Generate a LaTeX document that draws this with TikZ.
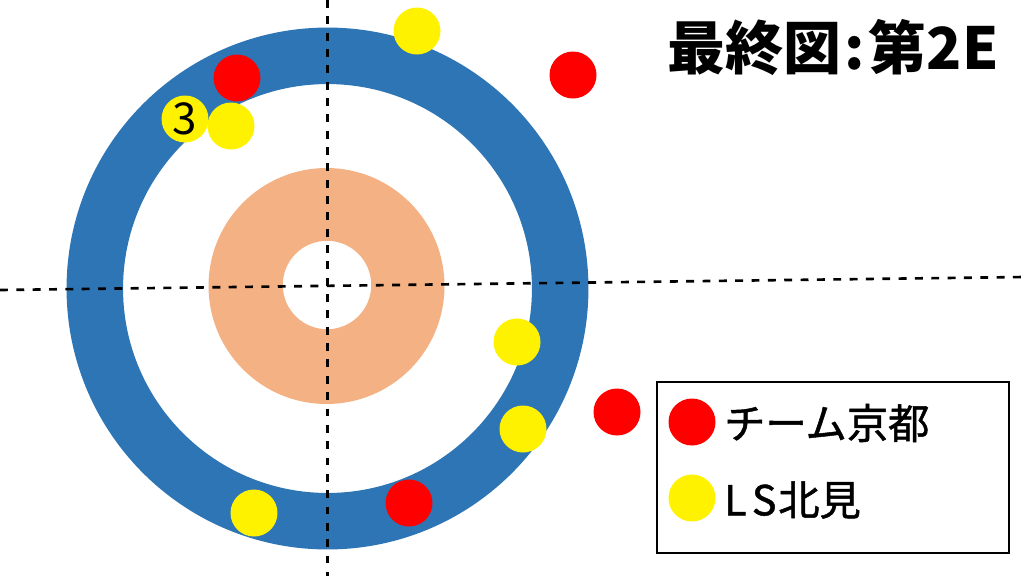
\documentclass[tikz,border=0pt]{standalone}
\usepackage{fontspec}
\setmainfont{Noto Sans CJK JP}
\newfontfamily\keyfont{Noto Sans CJK JP}[FakeBold=1.2]
\definecolor{sheetblue}{HTML}{2E75B6}
\definecolor{sheetorange}{HTML}{F4B183}
\tikzset{
	stone/.style={circle, minimum size=0.94cm, inner sep=0pt},
	redstone/.style={stone, fill=red},
	yellowstone/.style={stone, fill=yellow},
	guide/.style={line width=1.5pt, dash pattern=on 4.5pt off 4.8pt},
	keytext/.style={anchor=west, font=\fontsize{23.5}{23.5}\selectfont\keyfont},
}
\begin{document}
\begin{tikzpicture}[x=0.02cm, y=-0.02cm]
		\useasboundingbox (0, 0) rectangle (1024, 576);
		% house
		\fill[sheetblue, even odd rule] (327.5, 288.5) circle[radius=5.22cm] (327.5, 288.5) circle[radius=4.09cm];
		\fill[sheetorange, even odd rule] (326.5, 286) circle[radius=2.36cm] (327, 285) circle[radius=0.885cm];
		\coordinate (tee) at (327.5, 287);
		\draw[guide] (0, 290) -- (1024, 277);
		\draw[guide] (327.5, 0) -- (327.5, 576);
		% stones
		\node[yellowstone] (y1) at (417, 31) {};
		\node[redstone] (r1) at (573, 75) {};
		\node[redstone] (r2) at (237, 78) {};
		\node[yellowstone] (y2) at (231, 126) {};
		\node[yellowstone, font=\fontsize{25}{25}\selectfont] (y3) at (185, 119) {3};
		\node[yellowstone] (y4) at (517, 342) {};
		\node[redstone] (r3) at (617, 412) {};
		\node[yellowstone] (y5) at (523, 429) {};
		\node[redstone] (r4) at (409, 503) {};
		\node[yellowstone] (y6) at (254, 513) {};
		% title
		\node[font=\fontsize{33}{33}\selectfont\bfseries] (title) at (833, 47) {最終図\kern2pt:\kern2pt第2E};
		% legend
		\node[draw, line width=1.1pt, minimum width=7.04cm, minimum height=3.42cm] (legend) at (833, 467.5) {};
		\node[redstone] (keyred) at (692, 422) {};
		\node[yellowstone] (keyyellow) at (692, 498) {};
		\node[keytext] (keyredtext) at (718, 423) {チーム京都};
		\node[keytext] (keyyellowtext) at (718, 500) {L\kern3pt S\kern1pt 北見};
	\end{tikzpicture}
\end{document}
